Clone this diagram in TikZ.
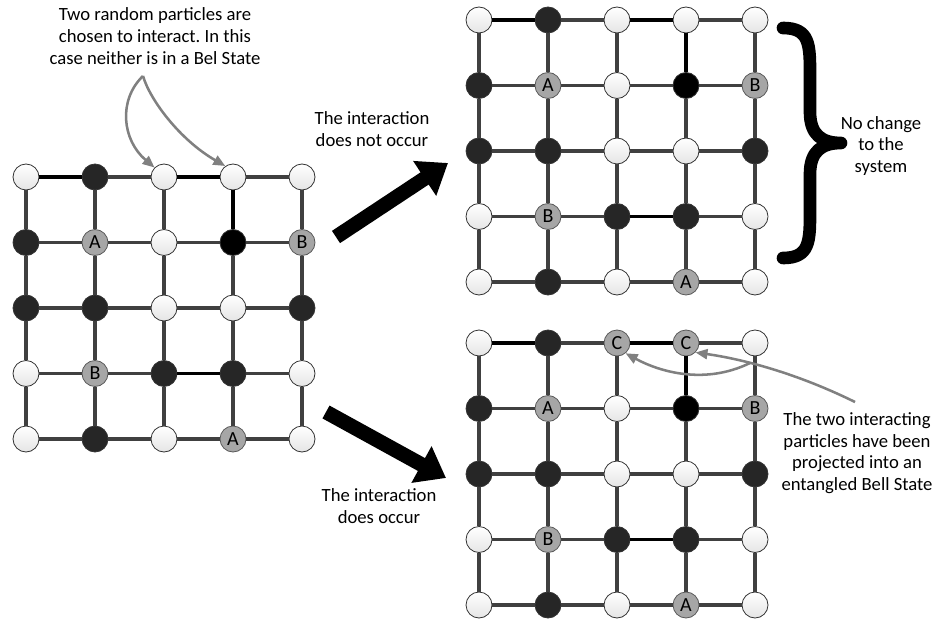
\documentclass[tikz,border=0pt]{standalone}
\usepackage{fontspec}
\setmainfont{Carlito}
\frenchspacing
\usetikzlibrary{arrows.meta}
\definecolor{linkgray}{HTML}{404040}
\definecolor{darkfill}{HTML}{262626}
\definecolor{labfill}{HTML}{A6A6A6}
\definecolor{pointgray}{HTML}{808080}
\tikzset{
  particle/.style={circle, minimum size=19.5pt, inner sep=0pt, draw=black!80, line width=0.6pt, font=\fontsize{15}{15}\selectfont},
  wp/.style={particle, top color=white, bottom color=black!10},
  dp/.style={particle, fill=darkfill},
  kp/.style={particle, fill=black},
  gp/.style={particle, fill=labfill, draw=black!65},
  gridline/.style={draw=linkgray, line width=2.9pt},
  bond/.style={draw=black, line width=2.9pt},
  note/.style={align=center, font=\fontsize{14}{16.2}\selectfont},
  pointer/.style={draw=pointgray, line width=1.9pt, -{Triangle[length=9pt,width=7.5pt]}},
  bigarrow/.style={line width=11pt, -{Triangle[length=21pt,width=30pt]}},
}
\begin{document}
\begin{tikzpicture}[x=0.75pt,y=-0.75pt]
\useasboundingbox (0,0) rectangle (938,624);
% the three lattices: before, no interaction, interaction
\foreach \g/\ox/\oy/\csty/\clab in {L/26/177/wp/{}, T/479/20/wp/{}, R/479/343/gp/C}{
  \foreach \r/\c/\sty/\lab in {0/0/wp/{}, 0/1/dp/{}, 0/4/wp/{}, 1/0/dp/{}, 1/1/gp/A, 1/2/wp/{}, 1/3/kp/{}, 1/4/gp/B,
      2/0/dp/{}, 2/1/dp/{}, 2/2/wp/{}, 2/3/wp/{}, 2/4/dp/{}, 3/0/wp/{}, 3/1/gp/B, 3/2/dp/{}, 3/3/dp/{}, 3/4/wp/{},
      4/0/wp/{}, 4/1/dp/{}, 4/2/wp/{}, 4/3/gp/A, 4/4/wp/{}}
    \node[\sty] (\g\r\c) at (\ox+\c*69, \oy+\r*65.5){\lab};
  \foreach \c in {2,3}
    \node[\csty] (\g0\c) at (\ox+\c*69, \oy){\clab};
  \foreach \r in {0,...,4}{
    \foreach \c/\nx in {0/1,1/2,2/3,3/4}{
      \draw[gridline](\g\r\c) -- (\g\r\nx);
      \draw[gridline](\g\c\r) -- (\g\nx\r);
    }
  }
  \draw[bond](\g00) -- (\g01);
  \draw[bond](\g02) -- (\g03);
  \draw[bond](\g03) -- (\g13);
  \draw[bond](\g32) -- (\g33);
}
% big arrows
\coordinate (up0) at (336,237);
\coordinate (up1) at (448,163);
\coordinate (dn0) at (326,412);
\coordinate (dn1) at (446,478);
\draw[bigarrow](up0) -- (up1);
\draw[bigarrow](dn0) -- (dn1);
% texts
\node[note] (pick) at (155,36){Two random particles are\\chosen to interact. In this\\case neither is in a Bel State};
\node[note] (nointer) at (372,129){The interaction\\does not occur};
\node[note] (inter) at (379,506){The interaction\\does occur};
\node[note] (nochange) at (881,146){No change\\to the\\system};
\node[note] (bell) at (857,453){The two interacting\\particles have been\\projected into an\\entangled Bell State};
% pointers
\coordinate (pickfoot) at (143,76);
\draw[pointer](pickfoot) .. controls (118,100) and (122,140) .. (L02.135);
\draw[pointer](pickfoot) .. controls (150,100) and (180,140) .. (L03.125);
\coordinate (bellfoot) at (855,402);
\coordinate (fork) at (750,363);
\draw[pointer](bellfoot) .. controls (790,370) and (735,358) .. (R03.-45);
\draw[pointer](fork) .. controls (705,385) and (660,372) .. (R02.-50);
% brace
\draw[line width=9.5pt, line cap=round, line join=round] (783,28) .. controls (810,28) and (810,45) .. (810,75) -- (810,112)
  .. controls (810,135) and (822,143) .. (841,143) .. controls (822,143) and (810,151) .. (810,174) -- (810,211)
  .. controls (810,241) and (810,258) .. (783,258);
\end{tikzpicture}
\end{document}
